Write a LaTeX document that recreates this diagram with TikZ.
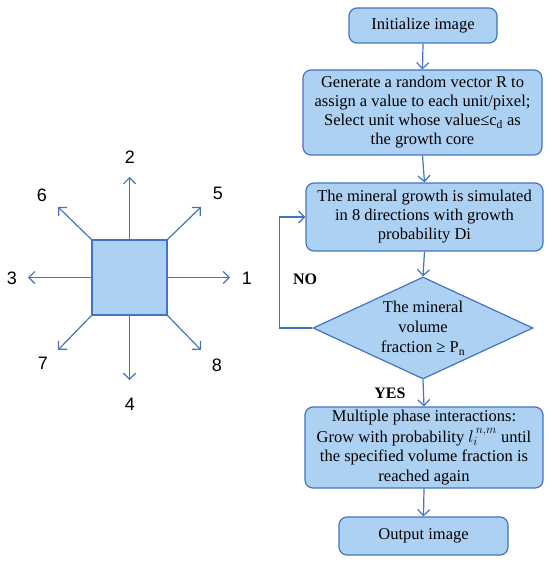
\documentclass[tikz,border=0pt]{standalone}
\usepackage{fontspec}
\setmainfont{Liberation Serif}
\newfontfamily\labelfont{Liberation Sans}
\usetikzlibrary{shapes.geometric,arrows.meta}
\definecolor{boxfill}{RGB}{173,209,242}
\definecolor{boxline}{RGB}{68,114,196}
\tikzset{
  flowbox/.style={draw=boxline, line width=1.2pt, fill=boxfill, rounded corners=8pt,
    align=center, inner sep=0pt, font=\fontsize{16.5}{19}\selectfont},
  flowarrow/.style={draw=boxline, line width=1.2pt, -{Straight Barb[length=6pt,width=12pt]}},
  dirlabel/.style={font=\labelfont\fontsize{18}{20}\selectfont},
  answer/.style={font=\bfseries\fontsize{16}{18}\selectfont},
}
\begin{document}
\begin{tikzpicture}[x=1pt,y=-1pt]
    \useasboundingbox (0,0) rectangle (550,564);

    % Growth cell and its 8 directions
    \node[draw=boxline, line width=1.2pt, fill=boxfill, minimum size=75pt, inner sep=0pt] (cell) at (129.5,277.5) {};
    \foreach \anc/\tx/\ty/\lab/\lx/\ly in {east/230/277.5/1/247/278, north/129.5/177/2/130/157,
        west/28/277.5/3/12/278, south/129.5/380/4/130/404, north east/201/207/5/218/193,
        north west/58/207/6/42/195, south west/58/350/7/43/363, south east/201/350/8/217/365}
    {
        \coordinate (tip\lab) at (\tx,\ty);
        \draw[flowarrow] (cell.\anc) -- (tip\lab);
        \node[dirlabel] (dir\lab) at (\lx,\ly) {\lab};
    }

    % Flowchart
    \node[flowbox, minimum width=148pt, minimum height=35pt] (init) at (423,25.5) {Initialize image};
    \node[flowbox, minimum width=239pt, minimum height=85pt] (core) at (422.5,112.5)
        {Generate a random vector R to\\ assign a value to each unit/pixel;\\
         Select unit whose value≤c\textsubscript{d} as\\ the growth core};
    \node[flowbox, minimum width=237pt, minimum height=68pt] (grow) at (424.5,217)
        {The mineral growth is simulated\\ in 8 directions with growth\\ probability Di};
    \node[diamond, draw=boxline, line width=1.2pt, fill=boxfill, aspect=2.16, inner sep=0pt,
        minimum width=220pt, minimum height=102pt] (check) at (423,328) {};
    \node[align=center, font=\fontsize{16.5}{20}\selectfont] (checktext) at (check.center)
        {The mineral\\ volume\\ fraction ≥ P\textsubscript{n}};
    \node[flowbox, minimum width=238pt, minimum height=81pt,
        font=\fontsize{16.5}{19.5}\selectfont] (multi) at (424,447.5)
        {Multiple phase interactions:\\[1pt] Grow with probability $l_i^{\,n,m}$ until\\
         the specified volume fraction is\\ reached again};
    \node[flowbox, minimum width=169pt, minimum height=38pt] (output) at (423.5,536) {Output image};

    \draw[flowarrow] (init.south) -- (core.north);
    \draw[flowarrow] (core.south) -- (grow.north);
    \draw[flowarrow] (grow.south) -- (check.north);
    \draw[flowarrow] (check.south) -- (multi.north);
    \draw[flowarrow] (multi.south) -- (output.north);
    \draw[flowarrow] (check.west) -- ++(-33,0) |- (grow.west);

    \node[answer] (no) at (305,279) {NO};
    \node[answer] (yes) at (390,393) {YES};
\end{tikzpicture}
\end{document}
